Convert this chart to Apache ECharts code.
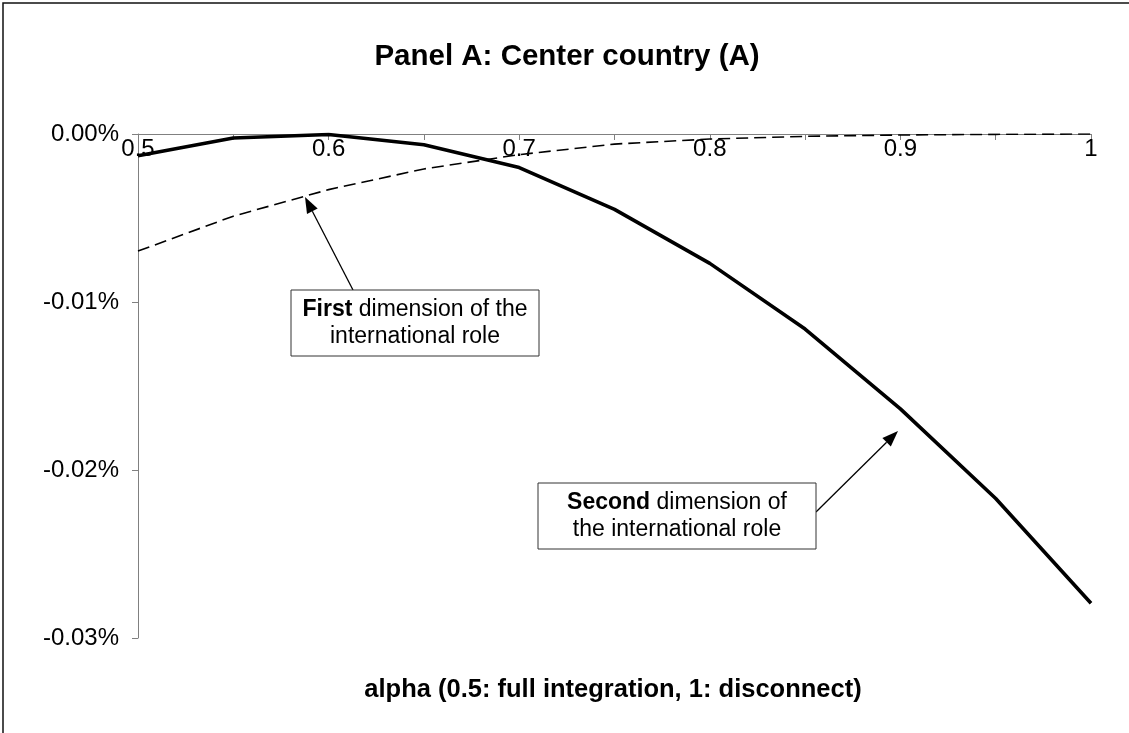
<!DOCTYPE html>
<html>
<head>
<meta charset="utf-8">
<script src="https://cdn.jsdelivr.net/npm/echarts@6/dist/echarts.min.js"></script>
<style>
html,body{margin:0;padding:0;background:#fff;}
#chart{width:1129px;height:733px;}
</style>
</head>
<body>
<div id="chart"></div>
<script>
// ---- data (values in percent) ----
const alpha = [0.5, 0.55, 0.6, 0.65, 0.7, 0.75, 0.8, 0.85, 0.9, 0.95, 1.0];
const firstDim = [-0.00697, -0.00489, -0.00331, -0.00208, -0.00123, -0.0006, -0.0003, -0.00014, -0.00006, -0.00002, 0];
const secondDim = [-0.00129, -0.00024, -0.00003, -0.00064, -0.0020, -0.00449, -0.0077, -0.01161, -0.01636, -0.0217, -0.02793];
const yTicks = [0, -0.01, -0.02, -0.03];
const titleText = 'Panel A: Center country (A)';
const xName = 'alpha (0.5: full integration, 1: disconnect)';

const FONT = '"Liberation Sans", Arial, sans-serif';
const chart = echarts.init(document.getElementById('chart'));

function pairs(xs, ys) { return xs.map((x, i) => [x, ys[i]]); }

function arrow(x1, y1, x2, y2, len, half) {
  const dx = x2 - x1, dy = y2 - y1, L = Math.hypot(dx, dy);
  const ux = dx / L, uy = dy / L;
  const bx = x2 - ux * len, by = y2 - uy * len;
  return [
    { type: 'line', shape: { x1: x1, y1: y1, x2: bx, y2: by }, style: { stroke: '#000', lineWidth: 1.3 }, z: 100 },
    { type: 'polygon', shape: { points: [[x2, y2], [bx - uy * half, by + ux * half], [bx + uy * half, by - ux * half]] }, style: { fill: '#000' }, z: 100 }
  ];
}

function box(x, y, w, h, text) {
  return [
    { type: 'rect', shape: { x: x, y: y, width: w, height: h }, style: { fill: '#fff', stroke: '#333', lineWidth: 1 }, z: 100 },
    { type: 'text', z: 101, style: {
      text: text, x: x + w / 2, y: y + h / 2, align: 'center', verticalAlign: 'middle',
      fontFamily: FONT, fontSize: 23, lineHeight: 27, fill: '#000',
      rich: { b: { fontFamily: FONT, fontSize: 23, fontWeight: 'bold', lineHeight: 27, fill: '#000' } }
    } }
  ];
}

const option = {
  animation: false,
  backgroundColor: '#fff',
  grid: { left: 138, right: 38, top: 134, bottom: 95, containLabel: false },
  xAxis: {
    type: 'value', position: 'top', min: 0.5, max: 1, interval: 0.05,
    axisLine: { show: true, onZero: false, lineStyle: { color: '#808080', width: 1 } },
    axisTick: { show: true, inside: true, length: 6, lineStyle: { color: '#808080' } },
    axisLabel: {
      inside: true, margin: 3, color: '#000', fontFamily: FONT, fontSize: 24,
      showMinLabel: true, showMaxLabel: true,
      formatter: function (v) { const r = Math.round(v * 100); return r % 10 === 0 ? String(r / 100) : ''; }
    },
    splitLine: { show: false }
  },
  yAxis: {
    type: 'value', min: -0.03, max: 0, interval: 0.01,
    axisLine: { show: true, lineStyle: { color: '#808080', width: 1 } },
    axisTick: { show: true, inside: false, length: 6, lineStyle: { color: '#808080' } },
    axisLabel: {
      margin: 19, color: '#000', fontFamily: FONT, fontSize: 24,
      formatter: function (v) { if (Math.abs(v) < 1e-9) return '0.00%'; return v.toFixed(2) + '%'; }
    },
    splitLine: { show: false }
  },
  series: [
    { name: 'First dimension', type: 'line', data: pairs(alpha, firstDim), showSymbol: false, symbol: 'none',
      lineStyle: { color: '#000', width: 1.6, type: [12, 6] }, z: 3 },
    { name: 'Second dimension', type: 'line', data: pairs(alpha, secondDim), showSymbol: false, symbol: 'none',
      lineStyle: { color: '#000', width: 3.6 }, z: 4 }
  ],
  graphic: [].concat(
    [{ type: 'rect', shape: { x: 3, y: 3, width: 1140, height: 760 }, style: { fill: 'none', stroke: '#111', lineWidth: 1.5 }, silent: true, z: 0 }],
    [{ type: 'text', z: 100, style: { text: titleText, x: 567, y: 57, align: 'center', verticalAlign: 'middle', fontFamily: FONT, fontSize: 29.5, fontWeight: 'bold', fill: '#000' } }],
    [{ type: 'text', z: 100, style: { text: xName, x: 613, y: 690, align: 'center', verticalAlign: 'middle', fontFamily: FONT, fontSize: 25.5, fontWeight: 'bold', fill: '#000' } }],
    arrow(353, 290, 305, 197, 16, 6),
    box(291, 290, 248, 66, '{b|First} dimension of the\ninternational role'),
    arrow(816, 512, 898, 431, 16, 6),
    box(538, 483, 278, 66, '{b|Second} dimension of\nthe international role')
  )
};
chart.setOption(option);
</script>
</body>
</html>
